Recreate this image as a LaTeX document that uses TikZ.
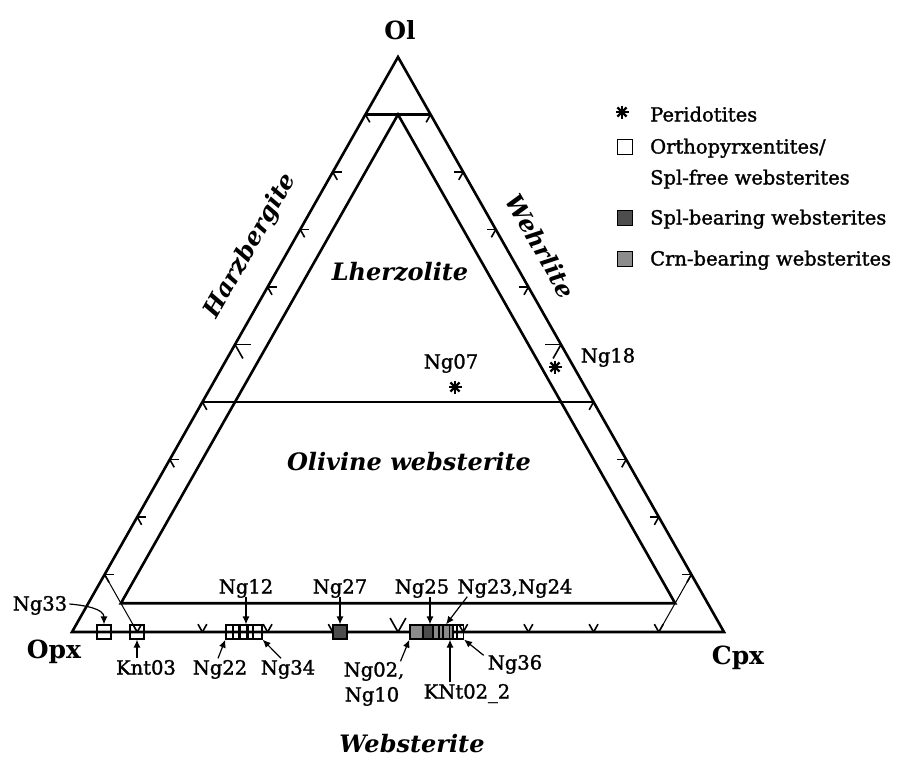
\documentclass[tikz,border=0pt]{standalone}
\usepackage{fontspec}
\setmainfont{DejaVu Serif}
\newfontfamily\lblfont{DejaVu Serif}[FakeBold=1.4]
\usetikzlibrary{calc,arrows.meta}
\definecolor{splc}{HTML}{4D4D4D}
\definecolor{crnc}{HTML}{8C8C8C}
\newcommand\astmark[1]{\foreach \a in {0,45,90,135} {\draw[line width=2.4pt] ($(#1)+(\a:6.5pt)$) -- ($(#1)+(\a+180:6.5pt)$);}}
\begin{document}
\begin{tikzpicture}[x=1pt,y=-1pt,
  edgeline/.style={line width=2.6pt, line join=miter},
  thinline/.style={line width=1pt},
  tickline/.style={line width=1.6pt},
  lbl/.style={font=\lblfont\fontsize{19.5}{22}\selectfont, inner sep=2pt, text height=14pt, text depth=1pt},
  fld/.style={font=\bfseries\itshape\fontsize{24}{28}\selectfont, inner sep=0pt},
  axl/.style={font=\bfseries\fontsize{25}{28}\selectfont, inner sep=0pt},
  smp/.style={draw, line width=1.2pt, minimum size=14pt, inner sep=0pt},
  legsq/.style={draw, line width=1.5pt, minimum size=15pt, inner sep=0pt},
  arr/.style={line width=1.2pt, -{Latex[length=8pt,width=7pt]}}]
\useasboundingbox (0,0) rectangle (908,761);
% corners
\coordinate (Ol) at (398,57);
\coordinate (Opx) at (72,632);
\coordinate (Cpx) at (724,632);
% field lines
\coordinate (iT) at (398,114.5);
\coordinate (iL) at (120.9,603.25);
\coordinate (iR) at (675.1,603.25);
\coordinate (L9) at ($(Opx)!0.9!(Ol)$);
\coordinate (R9) at ($(Cpx)!0.9!(Ol)$);
\coordinate (L4) at ($(Opx)!0.4!(Ol)$);
\coordinate (R4) at ($(Cpx)!0.4!(Ol)$);
\coordinate (L1) at ($(Opx)!0.1!(Ol)$);
\coordinate (R1) at ($(Cpx)!0.1!(Ol)$);
\coordinate (B1) at ($(Opx)!0.1!(Cpx)$);
\coordinate (B9) at ($(Opx)!0.9!(Cpx)$);
\draw[edgeline] (Opx) -- (Ol) -- (Cpx) -- cycle;
\draw[edgeline] (iL) -- (iT) -- (iR) -- cycle;
\draw[edgeline] (L9) -- (R9);
\draw[edgeline] (L4) -- (R4);
\draw[thinline] (L1) -- (B1);
\draw[thinline] (R1) -- (B9);
% ticks
\foreach \k in {1,...,9} {
  \pgfmathsetmacro\len{ifthenelse(\k==5,16,9)}
  \coordinate (pl) at ($(Opx)!\k/10!(Ol)$);
  \coordinate (pr) at ($(Cpx)!\k/10!(Ol)$);
  \coordinate (pb) at ($(Opx)!\k/10!(Cpx)$);
  \draw[tickline] (pl) -- ++(\len,0);
  \draw[tickline] (pl) -- ++(0.493*\len,0.870*\len);
  \draw[tickline] (pr) -- ++(-\len,0);
  \draw[tickline] (pr) -- ++(-0.493*\len,0.870*\len);
  \draw[tickline] (pb) -- ++(-0.493*\len,-0.870*\len);
  \draw[tickline] (pb) -- ++(0.493*\len,-0.870*\len);
}
% axis labels
\node[axl] (lOl) at (400,30) {Ol};
\node[axl] (lOpx) at (54,652) {Opx};
\node[axl] (lCpx) at (738,658) {Cpx};
% field labels
\node[fld] (fLh) at (400,272) {Lherzolite};
\node[fld] (fOw) at (409,462) {Olivine websterite};
\node[fld] (fWb) at (412,744) {Websterite};
\node[fld, rotate=60.4] (fHz) at (251,246) {Harzbergite};
\node[fld, rotate=-60.6] (fWh) at (541,246) {Wehrlite};
% peridotites
\coordinate (p07) at (455,387);
\coordinate (p18) at (555,367);
\astmark{p07}
\astmark{p18}
\node[lbl] (l07) at (451,362) {Ng07};
\node[lbl] (l18) at (608,356) {Ng18};
% samples on the Opx-Cpx join
\node[smp] (s33) at (104,632) {};
\node[smp] (sK03) at (137,632) {};
\node[smp] (s22) at (233,632) {};
\node[smp] (s12b) at (240,632) {};
\node[smp] (s12) at (246,632) {};
\node[smp] (s34) at (255,632) {};
\node[smp, fill=splc] (s27) at (340,632) {};
\node[smp, fill=crnc] (g1) at (417,632) {};
\node[smp, fill=splc] (g2) at (430,632) {};
\node[smp, fill=crnc] (g3) at (440,632) {};
\node[smp, fill=crnc] (g4) at (446,632) {};
\node[smp] (g5) at (450,632) {};
\node[smp] (g6) at (456.5,632) {};
% sample labels
\node[lbl] (l33) at (40,604) {Ng33};
\node[lbl] (lK03) at (146,668) {Knt03};
\node[lbl] (l12) at (246,587) {Ng12};
\node[lbl] (l22) at (220,668) {Ng22};
\node[lbl] (l34) at (288,668) {Ng34};
\node[lbl] (l27) at (340,587) {Ng27};
\node[lbl] (l25) at (422,587) {Ng25};
\node[lbl] (l23) at (515,587) {Ng23,Ng24};
\node[lbl] (l02) at (374,670) {Ng02,};
\node[lbl] (l10) at (372,695) {Ng10};
\node[lbl] (lK02) at (467,692) {KNt02\_2};
\node[lbl] (l36) at (515,663) {Ng36};
% arrows
\draw[arr] (l33.east) to[out=-5,in=90] (s33.north);
\draw[arr] (lK03.north -| sK03.south) -- (sK03.south);
\draw[arr] (l12.south -| s12.north) -- (s12.north);
\draw[arr] ($(l22.north)+(-2,0)$) -- (s22.south west);
\draw[arr] ($(l34.north)+(-7,0)$) -- (s34.south east);
\draw[arr] (l27.south) -- (s27.north);
\draw[arr] (l25.south -| g2.north) -- (g2.north);
\draw[arr] ($(l23.south west)!0.1!(l23.south east)$) -- (g4.north);
\draw[arr] ($(l02.north east)+(-6,1)$) -- (g1.south west);
\draw[arr] (lK02.north -| g5.south) -- (g5.south);
\draw[arr] ($(l36.north west)+(-2,2)$) -- (g6.south east);
% legend
\coordinate (legP) at (622,112);
\astmark{legP}
\node[legsq] (legO) at (625,147) {};
\node[legsq, fill=splc] (legS) at (625,218) {};
\node[legsq, fill=crnc] (legC) at (625,259) {};
\node[lbl, anchor=west] (tP) at (648,115) {Peridotites};
\node[lbl, anchor=west] (tO1) at (648,147) {Orthopyrxentites/};
\node[lbl, anchor=west] (tO2) at (648,178) {Spl-free websterites};
\node[lbl, anchor=west] (tS) at (648,218) {Spl-bearing websterites};
\node[lbl, anchor=west] (tC) at (648,259) {Crn-bearing websterites};
\end{tikzpicture}
\end{document}
